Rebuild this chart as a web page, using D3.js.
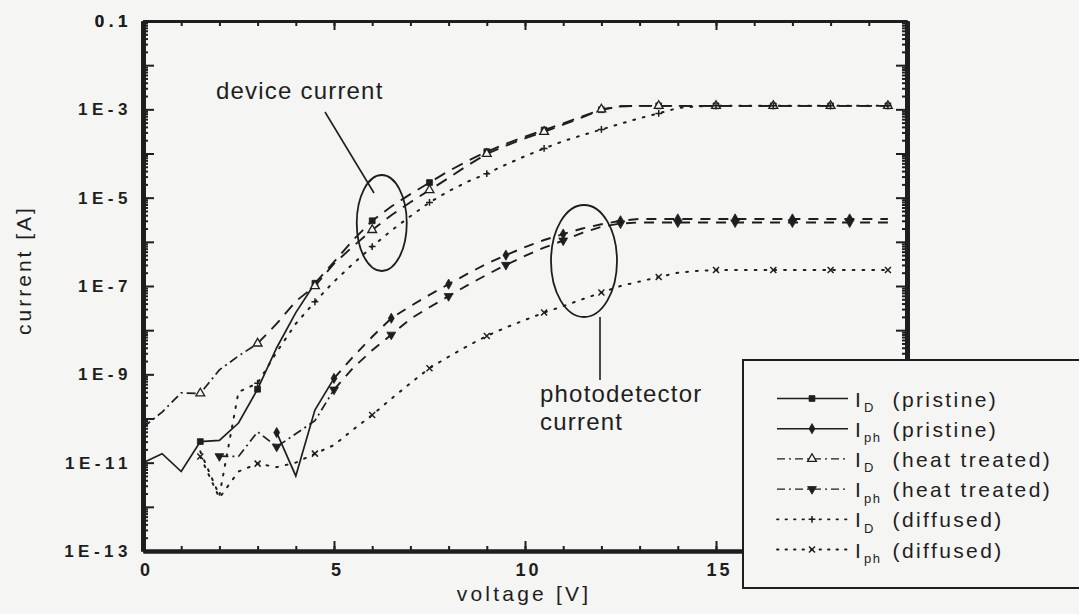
<!DOCTYPE html>
<html><head><meta charset="utf-8">
<script src="https://cdn.jsdelivr.net/npm/d3@7"></script>
<style>
html,body{margin:0;padding:0;background:#f5f5f3;}
svg{display:block;}
text{font-family:"Liberation Sans", Arial, Helvetica, sans-serif; fill:#1e1e1e;}
</style></head><body>
<svg id="chart" width="1079" height="614"></svg>
<script>
// ---------------- DATA ----------------
const voltage = [0,0.5,1,1.5,2,2.5,3,3.5,4,4.5,5,5.5,6,6.5,7,7.5,8,8.5,9,9.5,
  10,10.5,11,11.5,12,12.5,13,13.5,14,14.5,15,15.5,16,16.5,17,17.5,18,18.5,19,19.5];

const iD_pristine = [1.0e-11,1.6e-11,6.3e-12,3.0e-11,3.2e-11,7.9e-11,4.6e-10,4.0e-9,2.5e-8,1.15e-7,
  3.5e-7,1.1e-6,3.0e-6,6.3e-6,1.2e-5,2.2e-5,4.0e-5,6.8e-5,1.1e-4,1.66e-4,
  2.4e-4,3.4e-4,4.8e-4,6.9e-4,9.8e-4,1.17e-3,1.2e-3,1.2e-3,1.2e-3,1.2e-3,
  1.2e-3,1.2e-3,1.2e-3,1.2e-3,1.2e-3,1.2e-3,1.2e-3,1.2e-3,1.2e-3,1.2e-3];

const iPh_pristine = [null,null,null,null,null,null,null,4.8e-11,5.0e-12,1.55e-10,
  8.1e-10,2.5e-9,7.1e-9,1.86e-8,3.5e-8,6.3e-8,1.1e-7,1.9e-7,3.2e-7,5.0e-7,
  7.6e-7,1.1e-6,1.5e-6,2.0e-6,2.5e-6,3.0e-6,3.3e-6,3.3e-6,3.3e-6,3.3e-6,
  3.3e-6,3.3e-6,3.3e-6,3.3e-6,3.3e-6,3.3e-6,3.3e-6,3.3e-6,3.3e-6,3.3e-6];

const iD_heat = [6.3e-11,1.4e-10,3.8e-10,3.7e-10,1.26e-9,2.6e-9,5.0e-9,1.4e-8,4.5e-8,1.0e-7,
  3.2e-7,7.9e-7,1.86e-6,4.0e-6,7.9e-6,1.48e-5,2.8e-5,5.4e-5,9.8e-5,1.5e-4,
  2.2e-4,3.1e-4,4.5e-4,6.6e-4,1.0e-3,1.17e-3,1.2e-3,1.2e-3,1.2e-3,1.2e-3,
  1.2e-3,1.2e-3,1.2e-3,1.2e-3,1.2e-3,1.2e-3,1.2e-3,1.2e-3,1.2e-3,1.2e-3];

const iPh_heat = [null,null,null,null,1.4e-11,1.38e-11,5.0e-11,2.3e-11,4.5e-11,8.9e-11,
  4.5e-10,1.4e-9,3.5e-9,7.9e-9,1.8e-8,3.3e-8,5.9e-8,1.05e-7,1.8e-7,3.0e-7,
  4.8e-7,7.4e-7,1.07e-6,1.6e-6,2.2e-6,2.6e-6,2.75e-6,2.75e-6,2.75e-6,2.75e-6,
  2.75e-6,2.75e-6,2.75e-6,2.75e-6,2.75e-6,2.75e-6,2.75e-6,2.75e-6,2.75e-6,2.75e-6];

const iD_diffused = [null,null,null,1.8e-11,1.8e-12,4.0e-10,6.3e-10,3.2e-9,1.4e-8,4.4e-8,
  1.26e-7,3.2e-7,7.8e-7,1.8e-6,3.8e-6,7.8e-6,1.4e-5,2.3e-5,3.5e-5,5.6e-5,
  8.7e-5,1.3e-4,1.9e-4,2.6e-4,3.5e-4,4.7e-4,6.3e-4,8.1e-4,1.07e-3,1.17e-3,
  1.2e-3,1.2e-3,1.2e-3,1.2e-3,1.2e-3,1.2e-3,1.2e-3,1.2e-3,1.2e-3,1.2e-3];

const iPh_diffused = [null,null,null,1.38e-11,1.6e-12,6.3e-12,9.5e-12,7.9e-12,1.0e-11,1.6e-11,
  2.5e-11,5.6e-11,1.2e-10,2.8e-10,6.3e-10,1.38e-9,2.5e-9,4.4e-9,7.4e-9,1.15e-8,
  1.7e-8,2.5e-8,3.5e-8,5.0e-8,7.1e-8,1.0e-7,1.26e-7,1.6e-7,2.0e-7,2.2e-7,
  2.3e-7,2.3e-7,2.3e-7,2.3e-7,2.3e-7,2.3e-7,2.3e-7,2.3e-7,2.3e-7,2.3e-7];

const xTickValues = [0,5,10,15,20];
const xTickLabels = ["0","5","10","15",""];
const yTickValues = [1e-1,1e-3,1e-5,1e-7,1e-9,1e-11,1e-13];
const yTickLabels = ["0.1","1E-3","1E-5","1E-7","1E-9","1E-11","1E-13"];

const legendNames = ["(pristine)","(pristine)","(heat treated)","(heat treated)","(diffused)","(diffused)"];
const legendSubs  = ["D","ph","D","ph","D","ph"];

// ---------------- STYLE ----------------
const INK = "#1e1e1e", BG = "#f5f5f3";
const DASHDOT = "9,4,2,4", DOTTED = "1.8,8", LATE = "12,8";
const series = [
  {vals:iD_pristine,  early:null,    late:LATE,  split:4.5, marker:"square",  mStart:1.5},
  {vals:iPh_pristine, early:null,    late:"10,8",split:5,   marker:"diamond", mStart:3.5},
  {vals:iD_heat,      early:DASHDOT, late:LATE,  split:3,   marker:"triUp",   mStart:1.5},
  {vals:iPh_heat,     early:DASHDOT, late:"10,8",split:5,   marker:"triDown", mStart:2},
  {vals:iD_diffused,  early:DOTTED,  late:DOTTED,split:99,  marker:"plus",    mStart:3},
  {vals:iPh_diffused, early:DOTTED,  late:DOTTED,split:99,  marker:"cross",   mStart:1.5}
];

const svg = d3.select("#chart");
const x = d3.scaleLinear().domain([0,20]).range([143,907]);
const y = d3.scaleLog().domain([1e-13,1e-1]).range([551,21]);

// ---------------- AXES ----------------
const decades = d3.range(-13,0).map(k=>Math.pow(10,k));
const minors = [];
for (let k=-13;k<-1;k++) for (let m=2;m<=9;m++) minors.push(m*Math.pow(10,k));
const xMinor = d3.range(0,21);

function styleAxis(g, w){
  g.selectAll("path.domain").attr("stroke",INK).attr("stroke-width",w);
  g.selectAll(".tick line").attr("stroke",INK).attr("stroke-width",2);
}
let g;
// left
g = svg.append("g").attr("transform","translate(143,0)")
  .call(d3.axisLeft(y).tickValues(minors).tickSize(-5).tickSizeOuter(0).tickFormat(""));
styleAxis(g,5);
g = svg.append("g").attr("transform","translate(143,0)")
  .call(d3.axisLeft(y).tickValues(decades.concat([1e-1])).tickSize(-11).tickSizeOuter(0)
    .tickPadding(11).tickFormat(d=>{const i=yTickValues.findIndex(v=>Math.abs(Math.log10(v)-Math.log10(d))<1e-6);return i>=0?yTickLabels[i]:"";}));
styleAxis(g,5);
g.selectAll("text").attr("font-size",17).attr("font-weight","bold").attr("letter-spacing","4.5px").attr("fill",INK);
// right
g = svg.append("g").attr("transform","translate(907,0)")
  .call(d3.axisRight(y).tickValues(minors).tickSize(-5).tickSizeOuter(0).tickFormat(""));
styleAxis(g,5);
g = svg.append("g").attr("transform","translate(907,0)")
  .call(d3.axisRight(y).tickValues(decades).tickSize(-11).tickSizeOuter(0).tickFormat(""));
styleAxis(g,5);
// top
g = svg.append("g").attr("transform","translate(0,21)")
  .call(d3.axisTop(x).tickValues(xMinor).tickSize(-5).tickSizeOuter(0).tickFormat(""));
styleAxis(g,3);
g = svg.append("g").attr("transform","translate(0,21)")
  .call(d3.axisTop(x).tickValues(xTickValues).tickSize(-9).tickSizeOuter(0).tickFormat(""));
styleAxis(g,3);
// bottom
g = svg.append("g").attr("transform","translate(0,551)")
  .call(d3.axisBottom(x).tickValues(xMinor).tickSize(-5).tickSizeOuter(0).tickFormat(""));
styleAxis(g,4);
g = svg.append("g").attr("transform","translate(0,551)")
  .call(d3.axisBottom(x).tickValues(xTickValues).tickSize(-10).tickSizeOuter(0).tickPadding(12)
    .tickFormat((d,i)=>xTickLabels[i]));
styleAxis(g,4);
g.selectAll("text").attr("font-size",18).attr("font-weight","bold").attr("letter-spacing","3px")
  .attr("dx","3px").attr("fill",INK);

// axis titles
svg.append("text").attr("x",524).attr("y",601).attr("text-anchor","middle")
  .attr("font-size",21).attr("letter-spacing","3.2px").text("voltage [V]");
svg.append("text").attr("transform","translate(31,270) rotate(-90)").attr("text-anchor","middle")
  .attr("font-size",21).attr("letter-spacing","3px").text("current [A]");

// ---------------- LINES ----------------
const lineGen = d3.line().defined(d=>d.c!=null).x(d=>x(d.v)).y(d=>y(d.c));
function pts(vals){ return voltage.map((v,i)=>({v, c:vals[i]})); }

const symbolPaths = {
  square: d3.symbol().type(d3.symbolSquare).size(34)(),
  diamond: d3.symbol().type(d3.symbolDiamond).size(30)(),
  triUp: d3.symbol().type(d3.symbolTriangle).size(34)(),
  triDown: d3.symbol().type(d3.symbolTriangle).size(34)(),
  plus: "M-3.4,0H3.4M0,-3.4V3.4",
  cross: "M-3,-3L3,3M-3,3L3,-3"
};
function drawMarker(sel, type, px, py){
  const p = sel.append("path").attr("d",symbolPaths[type]).attr("stroke",INK);
  let tr = `translate(${px},${py})`;
  if (type==="triDown") tr += " rotate(180)";
  p.attr("transform",tr);
  if (type==="triUp") p.attr("fill",BG).attr("stroke-width",1.3);
  else if (type==="plus"||type==="cross") p.attr("fill","none").attr("stroke-width",1.5);
  else p.attr("fill",INK).attr("stroke-width",0.8);
}

const plot = svg.append("g");
series.forEach(s=>{
  const all = pts(s.vals);
  const early = all.filter(d=>d.v<=s.split);
  const late = all.filter(d=>d.v>=s.split);
  const a = plot.append("path").datum(early).attr("d",lineGen)
    .attr("fill","none").attr("stroke",INK).attr("stroke-width",s.early===DOTTED?2:1.7)
    .attr("stroke-linecap",s.early===DOTTED?"round":"butt");
  if (s.early) a.attr("stroke-dasharray",s.early);
  if (late.length>1){
    plot.append("path").datum(late).attr("d",lineGen)
      .attr("fill","none").attr("stroke",INK).attr("stroke-width",s.late===DOTTED?2:1.9)
      .attr("stroke-linecap",s.late===DOTTED?"round":"butt")
      .attr("stroke-dasharray",s.late);
  }
  all.filter(d=>d.c!=null && d.v>=s.mStart && Math.abs(((d.v-s.mStart)/1.5)-Math.round((d.v-s.mStart)/1.5))<1e-6)
    .forEach(d=>drawMarker(plot,s.marker,x(d.v),y(d.c)));
});

// ---------------- ANNOTATIONS ----------------
const ann = svg.append("g");
ann.append("text").attr("x",216).attr("y",99).attr("font-size",24).attr("letter-spacing","1.2px").text("device current");
ann.append("line").attr("x1",325).attr("y1",112).attr("x2",374).attr("y2",193).attr("stroke",INK).attr("stroke-width",1.6);
ann.append("ellipse").attr("cx",x(6.25)).attr("cy",223).attr("rx",25).attr("ry",48)
  .attr("fill","none").attr("stroke",INK).attr("stroke-width",1.8);
ann.append("ellipse").attr("cx",584).attr("cy",261).attr("rx",33).attr("ry",56)
  .attr("fill","none").attr("stroke",INK).attr("stroke-width",1.8);
ann.append("line").attr("x1",600).attr("y1",317).attr("x2",600).attr("y2",380).attr("stroke",INK).attr("stroke-width",1.6);
ann.append("text").attr("x",540).attr("y",402).attr("font-size",24).attr("letter-spacing","1.2px").text("photodetector");
ann.append("text").attr("x",540).attr("y",430).attr("font-size",24).attr("letter-spacing","1.2px").text("current");

// ---------------- LEGEND ----------------
const lg = svg.append("g");
lg.append("rect").attr("x",743).attr("y",360).attr("width",400).attr("height",228)
  .attr("fill",BG).attr("stroke",INK).attr("stroke-width",2);
series.forEach((s,i)=>{
  const ry = 398.5 + i*30.2;
  const l = lg.append("line").attr("x1",777).attr("x2",848).attr("y1",ry).attr("y2",ry)
    .attr("stroke",INK).attr("stroke-width",s.early===DOTTED?1.8:1.4)
    .attr("stroke-linecap",s.early===DOTTED?"round":"butt");
  if (s.early) l.attr("stroke-dasharray", s.early===DOTTED?"1.5,7":"8,4,2,4");
  drawMarker(lg,s.marker,812,ry);
  lg.append("text").attr("x",855).attr("y",ry+8).attr("font-size",21).text("I");
  lg.append("text").attr("x",864).attr("y",ry+13.5).attr("font-size",13).attr("letter-spacing","1.5px").text(legendSubs[i]);
  lg.append("text").attr("x",892.5).attr("y",ry+8).attr("font-size",21).attr("letter-spacing","2.4px").text(legendNames[i]);
});
</script>
</body></html>
